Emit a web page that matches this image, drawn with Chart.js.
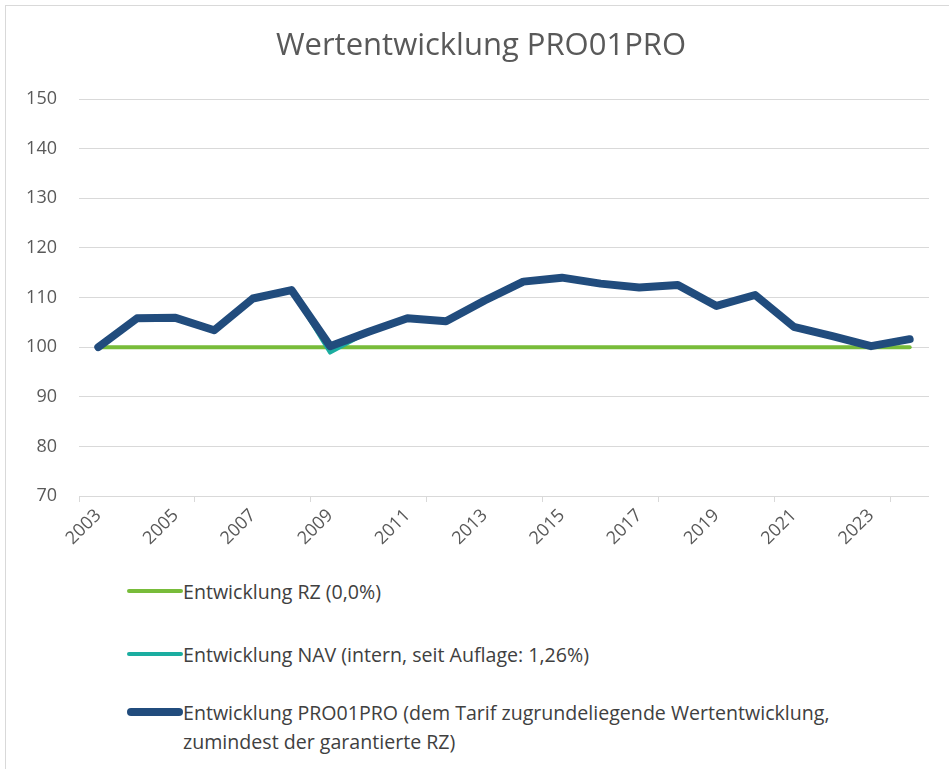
<!DOCTYPE html>
<html>
<head>
<meta charset="utf-8">
<script src="https://cdn.jsdelivr.net/npm/chart.js@4.4.1/dist/chart.umd.min.js"></script>
<style>
  html, body { margin: 0; padding: 0; background: #fff; }
  #wrap {
    position: relative; width: 949px; height: 769px; overflow: hidden;
    font-family: "Open Sans", sans-serif;
  }
  #frame {
    position: absolute; left: 5px; top: 5px; right: -10px; bottom: -10px;
    border-left: 1px solid #d9d9d9; border-top: 1px solid #d9d9d9;
  }
  #grafica { position: absolute; left: 0; top: 0; }
  #titel {
    position: absolute; left: 0; width: 962px; top: 22px; text-align: center;
    color: #595959; font-size: 31px; line-height: 42px;
  }
  .leg { position: absolute; left: 127px; color: #404040; font-size: 19.6px; line-height: 29px; }
  .leg .muster { position: absolute; left: 0; width: 56px; border-radius: 4px; }
  .leg .txt { position: absolute; left: 56px; white-space: nowrap; }
</style>
</head>
<body>
<div id="wrap">
  <div id="frame"></div>
  <canvas id="grafica" width="949" height="570"></canvas>
  <div id="titel">Wertentwicklung PRO01PRO</div>
  <div id="legende"></div>
</div>
<script>
const jahre = ["2003", "2004", "2005", "2006", "2007", "2008", "2009", "2010", "2011", "2012", "2013",
  "2014", "2015", "2016", "2017", "2018", "2019", "2020", "2021", "2022", "2023", "2024"];
const rz = [100, 100, 100, 100, 100, 100, 100, 100, 100, 100, 100,
  100, 100, 100, 100, 100, 100, 100, 100, 100, 100, 100];
const nav = [100, 105.8, 105.9, 103.4, 109.8, 111.5, 98.9, 103.1, 105.8, 105.2, 109.4,
  113.2, 114.0, 112.8, 112.0, 112.5, 108.3, 110.5, 104.1, 102.2, 100.2, 101.6];
const pro01pro = [100, 105.8, 105.9, 103.4, 109.8, 111.5, 100.2, 103.1, 105.8, 105.2, 109.4,
  113.2, 114.0, 112.8, 112.0, 112.5, 108.3, 110.5, 104.1, 102.2, 100.2, 101.6];

const serien = [
  { label: "Entwicklung RZ (0,0%)", data: rz, color: "#78bc3a", width: 4, order: 3 },
  { label: "Entwicklung NAV (intern, seit Auflage: 1,26%)", data: nav, color: "#1bada0", width: 4, order: 2 },
  { label: "Entwicklung PRO01PRO (dem Tarif zugrundeliegende Wertentwicklung,\nzumindest der garantierte RZ)", data: pro01pro, color: "#214c7d", width: 8, order: 1 }
];

const grau = "#595959";
const gitter = "#d9d9d9";

new Chart(document.getElementById("grafica").getContext("2d"), {
  type: "line",
  data: {
    labels: jahre,
    datasets: serien.map(s => ({
      label: s.label,
      data: s.data,
      borderColor: s.color,
      backgroundColor: s.color,
      borderWidth: s.width,
      borderCapStyle: "round",
      borderJoinStyle: "round",
      pointRadius: 0,
      tension: 0,
      order: s.order
    }))
  },
  options: {
    responsive: false,
    animation: false,
    layout: { padding: { left: 0, right: 20, top: 99, bottom: 0 } },
    plugins: {
      legend: { display: false },
      tooltip: { enabled: false },
      title: { display: false }
    },
    scales: {
      x: {
        offset: true,
        border: { display: false },
        grid: {
          offset: true,
          drawOnChartArea: false,
          drawTicks: true,
          tickLength: 6,
          color: ctx => (ctx.index % 3 === 0 ? gitter : "rgba(0,0,0,0)")
        },
        ticks: {
          autoSkip: false,
          minRotation: 45,
          maxRotation: 45,
          padding: 3,
          color: grau,
          font: { family: "Open Sans", size: 18 },
          callback: function (v, i) { return i % 2 === 0 ? this.getLabelForValue(v) : ""; }
        },
        afterFit: s => { s.height = 570 - 496; }
      },
      y: {
        min: 70,
        max: 150,
        border: { display: false },
        grid: { color: gitter, drawTicks: false },
        ticks: {
          stepSize: 10,
          padding: 22,
          color: grau,
          font: { family: "Open Sans", size: 18 }
        },
        afterFit: s => { s.width = 79; }
      }
    }
  }
});

// Legende untereinander wie im Original
const legendeY = [591, 654, 712];
const legende = document.getElementById("legende");
serien.forEach((s, i) => {
  const el = document.createElement("div");
  el.className = "leg";
  el.style.top = (legendeY[i] - 14.5) + "px";
  el.innerHTML = '<div class="muster" style="top:' + (14.5 - s.width / 2) + 'px;height:' + s.width +
    'px;background:' + s.color + '"></div><div class="txt">' + s.label.replace("\n", "<br>") + '</div>';
  legende.appendChild(el);
});
</script>
</body>
</html>
